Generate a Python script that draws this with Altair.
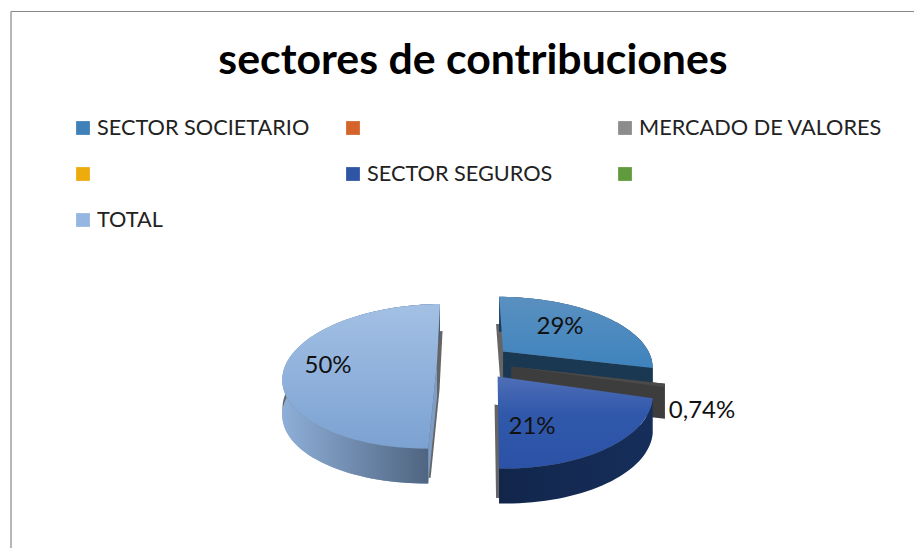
import math
import altair as alt
import pandas as pd

# ---- chart values ----
title_text = "sectores de contribuciones"
slice_names = ["SECTOR SOCIETARIO", "MERCADO DE VALORES", "SECTOR SEGUROS", "TOTAL"]
slice_values = [29.0, 0.74, 21.0, 50.0]
slice_labels = ["29%", "0,74%", "21%", "50%"]
label_pos_x = [560, 702, 532, 328]
label_pos_y = [327, 411, 427, 366]

legend_names = ["SECTOR SOCIETARIO", "", "MERCADO DE VALORES", "", "SECTOR SEGUROS", "", "TOTAL"]
legend_colors = ["#3f80b8", "#d4642a", "#8c8c8c", "#edab0e", "#2f55a5", "#5f9a3c", "#94b6e0"]
legend_col_x = [83, 353, 625]
legend_row_y = [128, 174, 220]

# ---- 3D pie projection settings ----
CX, CY, FX, FY, PERSP = 474.5, 362.0, 150.0, 69.5, 0.2
EXPLODE, DEPTH = 0.25, 35.0
slice_turn = [0.3, 0.0, 0.0, -1.5]
slice_scale = [1.0, 0.98, 0.965, 1.0]
shadow_dx = [-3.0, 0.0, -3.0, 2.5]

total = sum(slice_values)
angles = []
acc = 0.0
for v in slice_values:
    angles.append((acc, acc + v / total * 360))
    acc += v / total * 360


def project(a, b):
    w = 1 + PERSP * b
    return CX + FX * a / w, CY - FY * b / w


def arc_points(i):
    t0, t1 = angles[i]
    mid = math.radians((t0 + t1) / 2)
    ea, eb = EXPLODE * math.sin(mid), EXPLODE * math.cos(mid)
    n = max(2, int((t1 - t0) / 2))
    apex = project(ea, eb)
    pts = []
    for k in range(n + 1):
        t = math.radians(t0 + slice_turn[i] + (t1 - t0) * k / n)
        px, py = project(ea + math.sin(t), eb + math.cos(t))
        pts.append((apex[0] + (px - apex[0]) * slice_scale[i], apex[1] + (py - apex[1]) * slice_scale[i]))
    return apex, pts


def frame_of(rows):
    return pd.DataFrame({"x": [p[0] for p in rows], "y": [p[1] for p in rows], "o": range(len(rows))})


def top_df(i):
    apex, pts = arc_points(i)
    return frame_of([apex] + pts)


def wall_df(i):
    _, pts = arc_points(i)
    return frame_of(pts + [(x, y + DEPTH) for x, y in reversed(pts)])


def body_df(i):
    apex, pts = arc_points(i)
    ring = [apex] + pts
    return frame_of(ring + [(x, y + DEPTH) for x, y in reversed(ring)])


def cut_df(i):
    apex, pts = arc_points(i)
    return frame_of([apex, pts[-1], (pts[-1][0], pts[-1][1] + DEPTH), (apex[0], apex[1] + DEPTH)])


def shadow_df(i):
    apex, pts = arc_points(i)
    rows = [apex] + pts
    s = 1.015
    d = DEPTH - 7
    return frame_of([(apex[0] + (x - apex[0]) * s + shadow_dx[i], apex[1] + (y - apex[1]) * s + d) for x, y in rows])


W, H = 906, 540
xs = alt.Scale(domain=[8, 8 + W], nice=False, zero=False)
ys = alt.Scale(domain=[8 + H, 8], nice=False, zero=False)
X = alt.X("x:Q", scale=xs, axis=None)
Y = alt.Y("y:Q", scale=ys, axis=None)


def vgrad(*cols):
    stops = [alt.GradientStop(color=c, offset=o) for c, o in cols]
    return alt.Gradient(gradient="linear", x1=0, y1=0, x2=0, y2=1, stops=stops)


def hgrad(c0, c1):
    return alt.Gradient(gradient="linear", x1=0, y1=0, x2=1, y2=0,
                        stops=[alt.GradientStop(color=c0, offset=0), alt.GradientStop(color=c1, offset=1)])


def poly(df, fill, opacity=1.0):
    return alt.Chart(df).mark_line(interpolate="linear-closed", fill=fill, stroke=None, strokeWidth=0,
                                   fillOpacity=opacity, clip=False).encode(x=X, y=Y, order="o:Q")


layers = []

# frame
frame = pd.DataFrame({"x": [11, 11], "x2": [914, 11], "y": [11.5, 11.5], "y2": [11.5, 548]})
layers.append(alt.Chart(frame).mark_rule(color="#868686", strokeWidth=1.2).encode(
    x=X, y=Y, x2="x2:Q", y2="y2:Q"))

# shadows
for i in (3, 0, 2):
    layers.append(poly(shadow_df(i), "#4a4a4a", 0.85))

# TOTAL
layers.append(poly(body_df(3), "#7d9cc6"))
layers.append(poly(wall_df(3), hgrad("#8fafd8", "#4a5f7a")))
layers.append(poly(top_df(3), vgrad(("#a3c0e4", 0), ("#7ca2d2", 1))))

# SECTOR SOCIETARIO
layers.append(poly(wall_df(0), "#1a3a58"))
layers.append(poly(cut_df(0), "#1b3853"))
layers.append(poly(top_df(0), vgrad(("#5a90c0", 0), ("#3f83bd", 1))))

# MERCADO DE VALORES
layers.append(poly(body_df(1), "#3d3d3d"))
layers.append(poly(top_df(1), "#4a4a4a"))

# SECTOR SEGUROS
layers.append(poly(wall_df(2), hgrad("#12264b", "#162e5b")))
layers.append(poly(top_df(2), vgrad(("#4f6eb6", 0), ("#3058ab", 0.4), ("#2b52a6", 1))))

# data labels
labels = pd.DataFrame({"x": label_pos_x, "y": label_pos_y, "t": slice_labels})
layers.append(alt.Chart(labels).mark_text(font="Lato", fontSize=24, color="#111111", align="center",
                                          baseline="middle").encode(x=X, y=Y, text="t:N"))

# legend
lx, ly = [], []
for k in range(len(legend_names)):
    lx.append(legend_col_x[k % 3])
    ly.append(legend_row_y[k // 3])
legend = pd.DataFrame({"x": lx, "y": ly, "name": legend_names, "color": legend_colors,
                       "tx": [v + 14 for v in lx]})
layers.append(alt.Chart(legend).mark_point(shape="square", filled=True, size=190, opacity=1).encode(
    x=X, y=Y, color=alt.Color("color:N", scale=None)))
layers.append(alt.Chart(legend).mark_text(font="Lato", fontSize=21.7, color="#222222", align="left",
                                          baseline="middle").encode(
    x=alt.X("tx:Q", scale=xs, axis=None), y=Y, text="name:N"))

# title
tdf = pd.DataFrame({"x": [473], "y": [61], "t": [title_text]})
layers.append(alt.Chart(tdf).mark_text(font="Lato", fontSize=42.8, fontWeight="bold", color="#000000",
                                       align="center", baseline="middle").encode(x=X, y=Y, text="t:N"))

chart = alt.layer(*layers).properties(width=W, height=H, padding=0, background="#ffffff",
                                      autosize=alt.AutoSizeParams(type="none")).configure_view(stroke=None)
chart.save("out.html", embed_options={"renderer": "svg", "actions": False})
